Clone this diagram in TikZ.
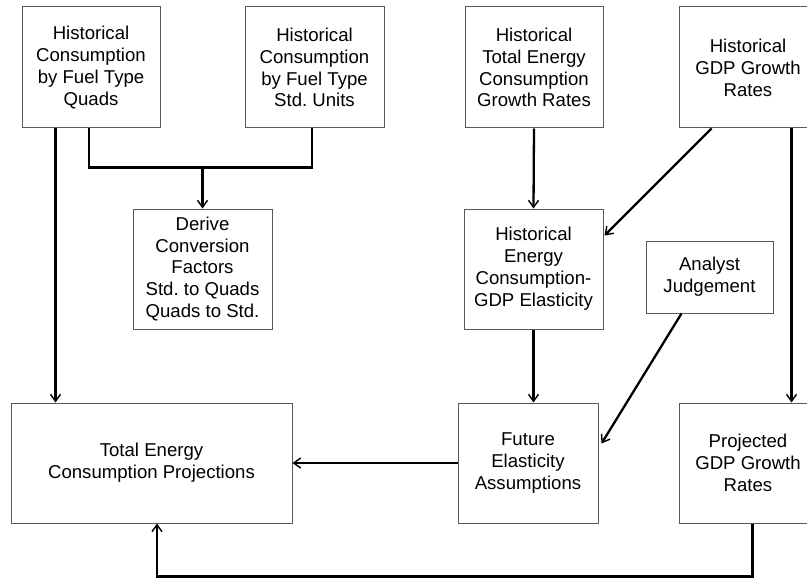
\documentclass[tikz,border=0pt]{standalone}
\usepackage{fontspec}
\setmainfont{Liberation Sans}
\usetikzlibrary{arrows.meta,calc}
\frenchspacing
\begin{document}
\begin{tikzpicture}[x=1pt,y=-1pt,
  box/.style={draw=black!65,line width=1pt,fill=white,rectangle,inner sep=0pt,
    align=center,minimum width=138pt,minimum height=121pt,
    font=\fontsize{18.6pt}{21.9pt}\selectfont},
  link/.style={line width=2.3pt,line join=miter},
  arr/.style={link,-{Straight Barb[length=7pt,width=10pt,line width=1.4pt]}}]
\useasboundingbox (0,0) rectangle (807,578);
\clip (0,0) rectangle (807,578);

% source data boxes, top row
\node[box] (q1) at (91,67.5) {Historical\\Consumption\\by Fuel Type\\Quads};
\node[box,minimum width=139pt] (q2) at (314.5,67.5) {Historical\\Consumption\\by Fuel Type\\Std. Units};
\node[box] (ht) at (534,67.5) {Historical\\Total Energy\\Consumption\\Growth Rates};
\node[box] (hg) at (748,67.5) {Historical\\GDP Growth\\Rates};

% middle row
\node[box,minimum width=139pt,minimum height=120pt] (dv) at (202.5,269) {Derive\\Conversion\\Factors\\Std. to Quads\\Quads to Std.};
\node[box,minimum width=139pt,minimum height=120pt] (el) at (533.5,269) {Historical\\Energy\\Consumption-\\GDP Elasticity};
\node[box,minimum width=127pt,minimum height=72pt] (an) at (709.5,277) {Analyst\\Judgement};

% bottom row
\node[box,minimum width=281pt,minimum height=120pt] (tot) at (151.5,463) {Total Energy\\Consumption Projections};
\node[box,minimum width=140pt,minimum height=120pt] (fu) at (528,463) {Future\\Elasticity\\Assumptions};
\node[box,minimum height=120pt] (pr) at (748,463) {Projected\\GDP Growth\\Rates};

% attachment points
\coordinate (a1) at ($(q1.south west)+(34,0)$);
\coordinate (b1) at ($(q1.south)+(-2,0)$);
\coordinate (b2) at ($(q2.south)+(-2.5,0)$);
\coordinate (j)  at ($(dv.north)+(0,-41)$);
\coordinate (g1) at ($(hg.south west)+(33,0)$);
\coordinate (g2) at ($(hg.south west)+(113,0)$);
\coordinate (e1) at ($(el.north east)+(1,27)$);
\coordinate (n1) at ($(an.south west)+(36,0)$);
\coordinate (f1) at ($(fu.north east)+(3,41)$);
\coordinate (p1) at ($(pr.south west)+(74,0)$);
\coordinate (t1) at ($(tot.south)+(5.5,0)$);

% connectors
\draw[arr] (a1) -- (a1 |- tot.north);
\draw[link] (b1) |- (j) -| (b2);
\draw[arr] (j) -- (dv.north);
\draw[arr] (ht.south) -- (el.north);
\draw[arr] (g1) -- (e1);
\draw[arr] (g2) -- (g2 |- pr.north);
\draw[arr] (el.south) -- (el.south |- fu.north);
\draw[arr] (n1) -- (f1);
\draw[arr] (fu.west) -- (tot.east);
\draw[arr] (p1) -- ++(0,53) -| (t1);
\end{tikzpicture}
\end{document}
